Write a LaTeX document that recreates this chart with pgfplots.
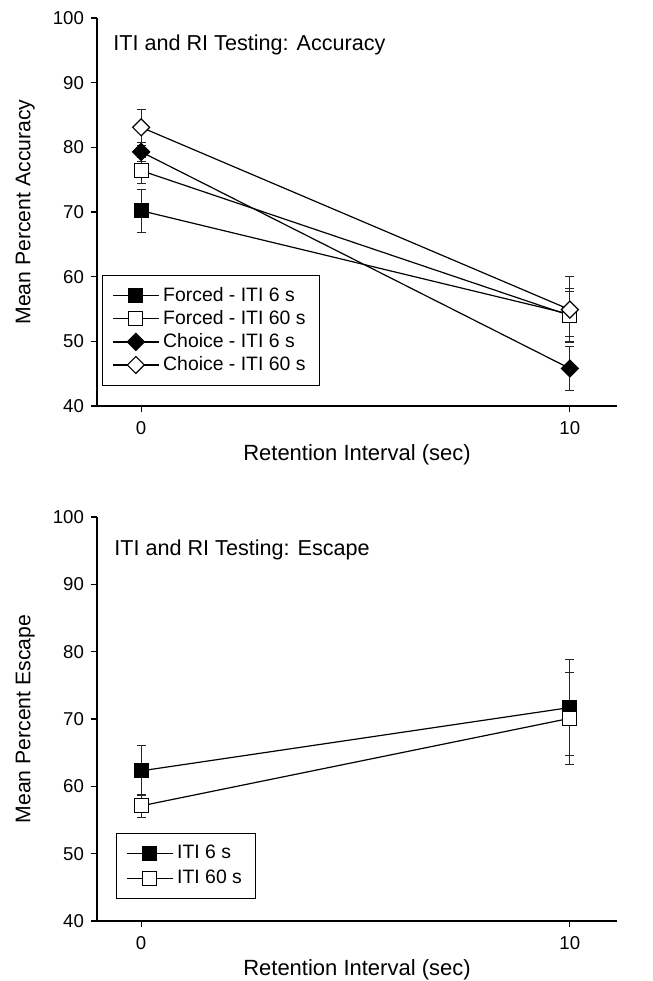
\documentclass[border=0pt]{standalone}
\usepackage{fontspec}
\setmainfont{Liberation Sans}
\usepackage{pgfplots}
\pgfplotsset{compat=1.18}

\tikzset{ptitle/.style={anchor=north west, font=\fontsize{10.8}{12}\selectfont, inner sep=0pt}}

\pgfplotsset{
  panel/.style={
    width=260pt, scale only axis,
    xmin=-1.03, xmax=11.1, ymin=40, ymax=100,
    axis x line*=bottom, axis y line*=left,
    xtick={0,10}, ytick={40,50,...,100},
    tick align=outside, major tick length=3pt,
    tick style={black, line width=0.6pt},
    axis line style={line width=0.75pt},
    ticklabel style={font=\fontsize{9.3}{10}\selectfont},
    xticklabel style={yshift=-1pt},
    /pgf/number format/assume math mode=true,
    xlabel={Retention Interval (sec)},
    xlabel style={font=\fontsize{11}{13}\selectfont,
      at={(axis description cs:0.5,0)}, anchor=center, yshift=-24.5pt},
    ylabel style={font=\fontsize{10.6}{13}\selectfont,
      at={(axis description cs:-0.138,0.5)}, anchor=center},
    legend cell align=left,
    legend style={draw=black, line width=0.5pt, font=\fontsize{9.7}{11}\selectfont,
      inner xsep=5pt, inner ysep=4pt, anchor=south west,
      /tikz/every even column/.append style={column sep=5pt}},
    legend image code/.code={
      \draw[mark repeat=2, mark phase=2, #1] plot coordinates {(0cm,0cm) (0.4cm,0cm) (0.8cm,0cm)};
    },
    clip=false,
  },
  series/.style={black, line width=0.6pt, mark size=3.5pt,
    mark options={solid, line width=0.7pt, draw=black},
    error bars/y dir=both, error bars/y explicit,
    error bars/error bar style={line width=0.5pt, black!85},
    error bars/error mark options={rotate=90, mark size=2.2pt, line width=0.5pt, black!85}},
  fsq/.style={series, mark=square*, mark options={fill=black}},
  osq/.style={series, mark=square*, mark options={fill=white}},
  fdi/.style={series, mark=square*, mark size=3pt, mark options={fill=black, rotate=45}},
  odi/.style={series, mark=square*, mark size=3pt, mark options={fill=white, rotate=45}},
}

\begin{document}
\begin{tikzpicture}
\useasboundingbox (-48.5pt,-287.5pt) rectangle (278pt,203pt);

% accuracy panel
\begin{axis}[panel, height=194pt,
    ylabel={Mean Percent Accuracy},
    legend style={at={(rel axis cs:0,0)}, xshift=2.5pt, yshift=10pt, row sep=-1pt}]
  \addplot+[fsq] coordinates {(0,70.2) +- (0,3.3) (10,54.2) +- (0,3.5)};
  \addplot+[osq] coordinates {(0,76.4) +- (0,2.0) (10,54.0) +- (0,4.1)};
  \addplot+[fdi] coordinates {(0,79.3) +- (0,1.5) (10,45.8) +- (0,3.4)};
  \addplot+[odi] coordinates {(0,83.1) +- (0,2.8) (10,54.9) +- (0,5.1)};
  \legend{Forced - ITI 6 s, Forced - ITI 60 s, Choice - ITI 6 s, Choice - ITI 60 s}
  \node[ptitle] at (rel axis cs:0,1) [xshift=8pt, yshift=-8pt] {ITI and RI Testing: Accuracy};
\end{axis}

% escape panel
\begin{axis}[panel, height=202pt, at={(0,-55.5pt)}, anchor=north west,
    ylabel={Mean Percent Escape},
    legend style={at={(rel axis cs:0,0)}, xshift=9.5pt, yshift=11pt}]
  \addplot+[fsq] coordinates {(0,62.3) +- (0,3.7) (10,71.7) +- (0,7.1)};
  \addplot+[osq] coordinates {(0,57.1) +- (0,1.7) (10,70.1) +- (0,6.8)};
  \legend{ITI 6 s, ITI 60 s}
  \node[ptitle] at (rel axis cs:0,1) [xshift=8.5pt, yshift=-11pt] {ITI and RI Testing: Escape};
\end{axis}
\end{tikzpicture}
\end{document}
